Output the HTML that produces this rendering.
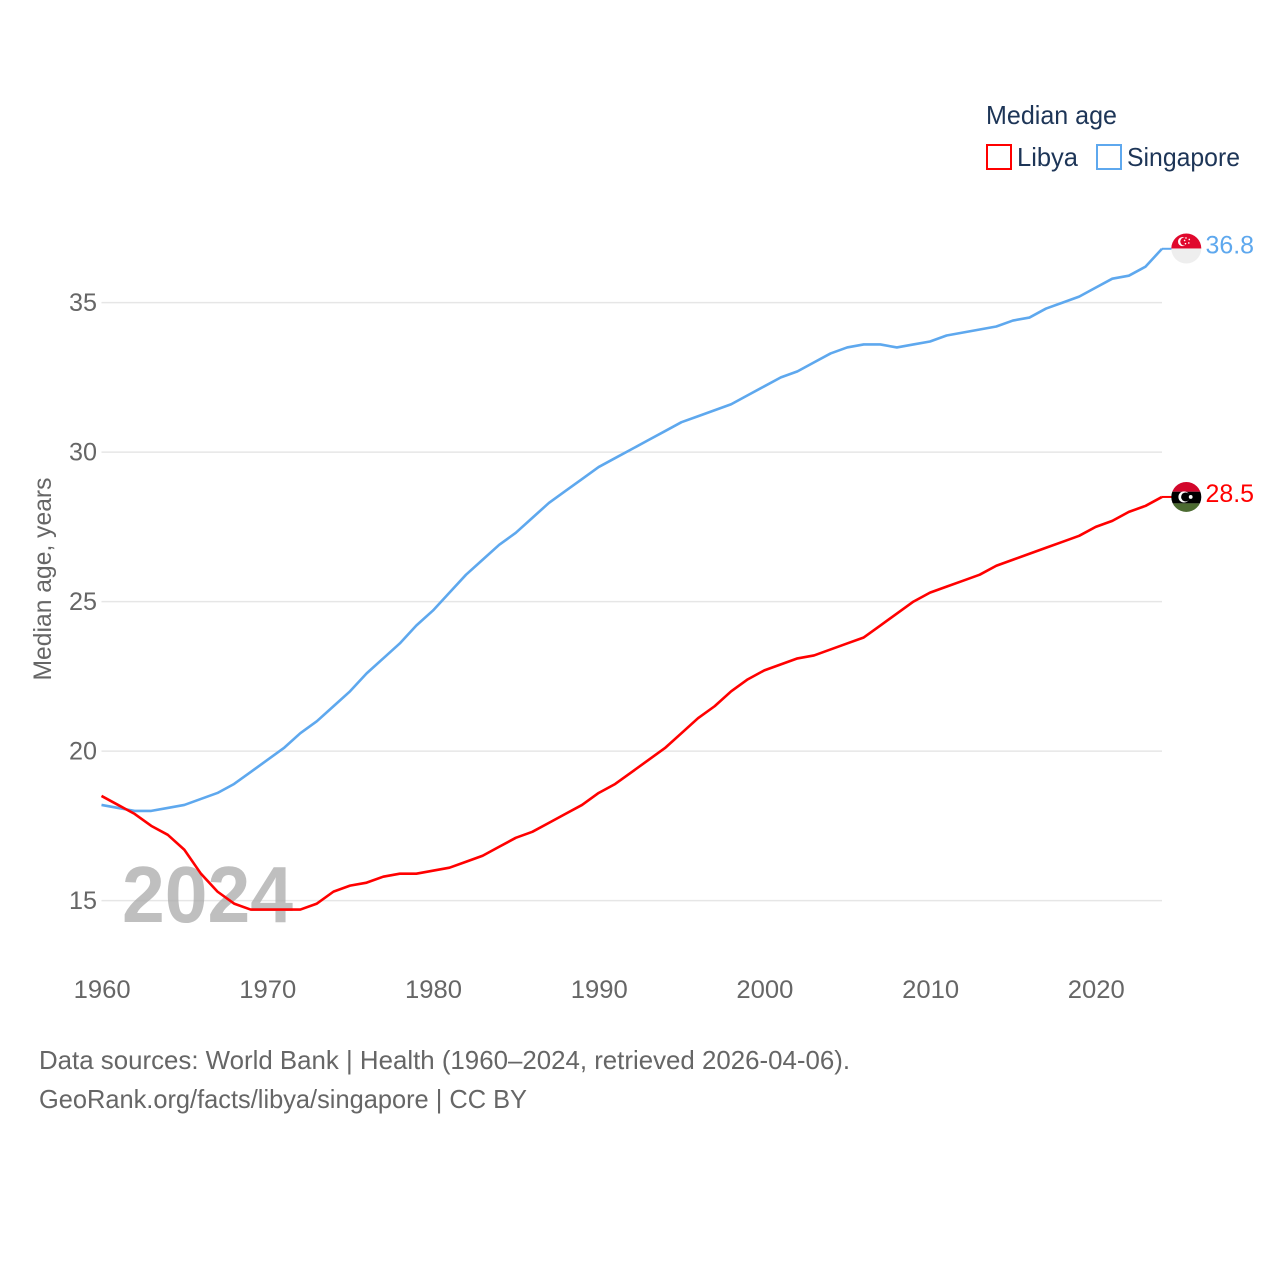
<!DOCTYPE html>
<html lang="en">
<head>
<meta charset="utf-8">
<title>Median age: Libya and Singapore</title>
<style>
html,body{margin:0;padding:0;background:#fff;}
svg{display:block;}
text{font-family:"Liberation Sans",sans-serif;}
</style>
</head>
<body>
<svg id="chart" xmlns="http://www.w3.org/2000/svg" width="1280" height="1280" viewBox="0 0 1280 1280">
  <rect width="1280" height="1280" fill="#fff"/>
  <g id="grid"></g>
  <text x="122" y="922" font-size="80" font-weight="bold" fill="#bfbfbf" textLength="171" lengthAdjust="spacingAndGlyphs">2024</text>
  <g id="grid-over"></g>
  <g id="y-ticks"></g>
  <g id="x-ticks"></g>
  <text transform="translate(51,579) rotate(-90)" text-anchor="middle" font-size="25" fill="#666" textLength="203" lengthAdjust="spacingAndGlyphs">Median age, years</text>
  <g id="series"></g>
  <g id="ends"></g>

  <g>
    <text x="986" y="124" font-size="26" fill="#1d3557" textLength="131" lengthAdjust="spacingAndGlyphs">Median age</text>
    <g>
      <rect x="987" y="145" width="24" height="24" fill="#fff" stroke="#ff0000" stroke-width="2"/>
      <text x="1017" y="166" font-size="26" fill="#1d3557" textLength="61" lengthAdjust="spacingAndGlyphs">Libya</text>
    </g>
    <g>
      <rect x="1097" y="145" width="24" height="24" fill="#fff" stroke="#5ea8ee" stroke-width="2"/>
      <text x="1127" y="166" font-size="26" fill="#1d3557" textLength="113" lengthAdjust="spacingAndGlyphs">Singapore</text>
    </g>
  </g>

  <g>
    <text x="39" y="1069" font-size="26" fill="#666" textLength="811" lengthAdjust="spacingAndGlyphs">Data sources: World Bank | Health (1960–2024, retrieved 2026-04-06).</text>
    <text x="39" y="1108" font-size="26" fill="#666" textLength="488" lengthAdjust="spacingAndGlyphs">GeoRank.org/facts/libya/singapore | CC BY</text>
  </g>
</svg>
<script>
const years = [1960,1961,1962,1963,1964,1965,1966,1967,1968,1969,1970,1971,1972,1973,1974,1975,1976,1977,1978,1979,1980,1981,1982,1983,1984,1985,1986,1987,1988,1989,1990,1991,1992,1993,1994,1995,1996,1997,1998,1999,2000,2001,2002,2003,2004,2005,2006,2007,2008,2009,2010,2011,2012,2013,2014,2015,2016,2017,2018,2019,2020,2021,2022,2023,2024];
const libyaValues = [18.5,18.2,17.9,17.5,17.2,16.7,15.9,15.3,14.9,14.7,14.7,14.7,14.7,14.9,15.3,15.5,15.6,15.8,15.9,15.9,16.0,16.1,16.3,16.5,16.8,17.1,17.3,17.6,17.9,18.2,18.6,18.9,19.3,19.7,20.1,20.6,21.1,21.5,22.0,22.4,22.7,22.9,23.1,23.2,23.4,23.6,23.8,24.2,24.6,25.0,25.3,25.5,25.7,25.9,26.2,26.4,26.6,26.8,27.0,27.2,27.5,27.7,28.0,28.2,28.5];
const singaporeValues = [18.2,18.1,18.0,18.0,18.1,18.2,18.4,18.6,18.9,19.3,19.7,20.1,20.6,21.0,21.5,22.0,22.6,23.1,23.6,24.2,24.7,25.3,25.9,26.4,26.9,27.3,27.8,28.3,28.7,29.1,29.5,29.8,30.1,30.4,30.7,31.0,31.2,31.4,31.6,31.9,32.2,32.5,32.7,33.0,33.3,33.5,33.6,33.6,33.5,33.6,33.7,33.9,34.0,34.1,34.2,34.4,34.5,34.8,35.0,35.2,35.5,35.8,35.9,36.2,36.8];
const yTickValues = [15,20,25,30,35];
const xTickValues = [1960,1970,1980,1990,2000,2010,2020];

const NS = 'http://www.w3.org/2000/svg';
function xScale(year){ return 101.5 + (year - 1960) * (1162 - 101.5) / (2024 - 1960); }
function yScale(v){ return 900.6 - (v - 15) * (900.6 - 302.6) / (35 - 15); }
function make(tag, attrs, parent){
  const el = document.createElementNS(NS, tag);
  for (const k in attrs) el.setAttribute(k, attrs[k]);
  parent.appendChild(el);
  return el;
}

const gridG = document.getElementById('grid');
const gridOverG = document.getElementById('grid-over');
const yG = document.getElementById('y-ticks');
const xG = document.getElementById('x-ticks');
const seriesG = document.getElementById('series');
const endsG = document.getElementById('ends');

yTickValues.forEach(function(v){
  const line = make('line', {x1:101.5, x2:1162, y1:yScale(v), y2:yScale(v), stroke:'#eeeeee', 'stroke-width':1.5}, gridG);
  
  
  const over = make('line', {x1:101.5, x2:1162, y1:yScale(v), y2:yScale(v), stroke:'#000', 'stroke-opacity':0.03, 'stroke-width':1.5}, gridOverG);
  
  
  const t = make('text', {x:97, y:yScale(v) + 8.4, 'text-anchor':'end', 'font-size':25, fill:'#666', textLength:28, lengthAdjust:'spacingAndGlyphs'}, yG);
  
  
  t.textContent = v;
});

xTickValues.forEach(function(y){
  const t = make('text', {x:xScale(y) + 0.6, y:998, 'text-anchor':'middle', 'font-size':25, fill:'#666', textLength:57, lengthAdjust:'spacingAndGlyphs'}, xG);
  
  
  t.textContent = y;
});

function linePath(values){
  return values.map(function(v, i){
    return (i ? 'L' : 'M') + xScale(years[i]).toFixed(2) + ' ' + yScale(v).toFixed(2);
  }).join('');
}

const singaporeLine = make('path', {d:linePath(singaporeValues), fill:'none', stroke:'#5ea8ee', 'stroke-width':2.6, 'stroke-linejoin':'round'}, seriesG);


const libyaLine = make('path', {d:linePath(libyaValues), fill:'none', stroke:'#ff0000', 'stroke-width':2.6, 'stroke-linejoin':'round'}, seriesG);



function endMarker(name, value, color, cyOffset, bands, decorate){
  const ey = yScale(value);
  const cy = ey + cyOffset;
  const g = make('g', {}, endsG);
  
  
  const leader = make('line', {x1:1162, x2:1172, y1:ey, y2:ey, stroke:color, 'stroke-width':2}, g);
  
  
  const clipId = 'clip-' + name;
  const defs = make('defs', {}, g);
  const clip = make('clipPath', {id:clipId}, defs);
  make('circle', {cx:1186.3, cy:cy, r:15}, clip);
  const flag = make('g', {'clip-path':'url(#' + clipId + ')'}, g);
  
  
  let top = cy - 15;
  bands.forEach(function(b){
    make('rect', {x:1171, y:top, width:31, height:30 * b[0], fill:b[1]}, flag);
    top += 30 * b[0];
  });
  decorate(flag, cy);
  const label = make('text', {x:1205.5, y:cy + 5, 'font-size':25, fill:color, textLength:48.5, lengthAdjust:'spacingAndGlyphs'}, g);
  
  
  label.textContent = value.toFixed(1);
}

endMarker('singapore', singaporeValues[singaporeValues.length - 1], '#5ea8ee', -0.3,
  [[0.5,'#e0082d'],[0.5,'#eeeeee']],
  function(flag, cy){
    make('circle', {cx:1182.6, cy:cy - 6.9, r:4.6, fill:'#fff'}, flag);
    make('circle', {cx:1184.4, cy:cy - 6.9, r:4.1, fill:'#e0082d'}, flag);
    [[1186,-10.5],[1189.3,-9],[1188.8,-5.5],[1185.5,-4.8],[1184.6,-8]].forEach(function(s){
      make('circle', {cx:s[0], cy:cy + s[1], r:0.8, fill:'#fff'}, flag);
    });
  });

endMarker('libya', libyaValues[libyaValues.length - 1], '#ff0000', 0,
  [[0.325,'#d2062b'],[0.39,'#000000'],[0.285,'#4c6b31']],
  function(flag, cy){
    make('circle', {cx:1184, cy:cy, r:5.6, fill:'#fff'}, flag);
    make('circle', {cx:1185.6, cy:cy, r:4.5, fill:'#000'}, flag);
    make('circle', {cx:1190.7, cy:cy, r:1.9, fill:'#fff'}, flag);
  });
</script>
</body>
</html>
